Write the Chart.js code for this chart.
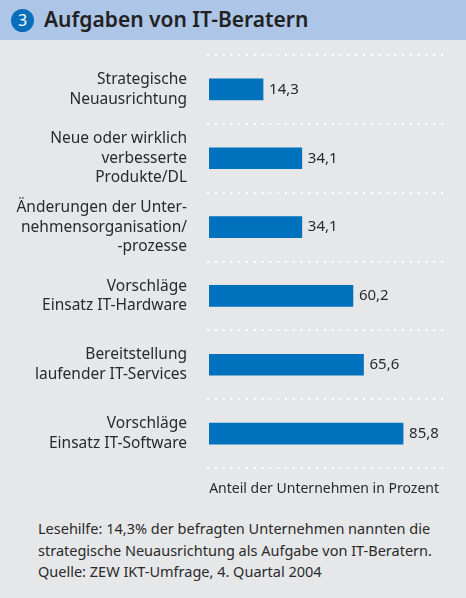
<!DOCTYPE html>
<html>
<head>
<meta charset="utf-8">
<script src="https://cdn.jsdelivr.net/npm/chart.js@4"></script>
<style>
  body { margin: 0; background: #e6e7e9; font-family: "Noto Sans", sans-serif; color: #2a2a2a; }
  #page { position: relative; width: 466px; height: 598px; overflow: hidden; background: #e6e7e9; }
  #head { position: absolute; left: 0; top: 0; width: 466px; height: 40px; background: #adc5e6; }
  #num { position: absolute; left: 11px; top: 9px; width: 23px; height: 23px; border-radius: 50%;
         background: #0a6fba; color: #fff; font-size: 16px; line-height: 23px; text-align: center; }
  #title { position: absolute; left: 44px; top: 5px; font-size: 21px; font-weight: 600; color: #222; }
  #wrap { position: absolute; left: 0; top: 40px; width: 466px; height: 440px; }
  #unit { position: absolute; right: 27px; top: 478px; font-size: 14px; }
  #note { position: absolute; left: 38px; top: 518px; font-size: 14.5px; line-height: 21.5px; }
</style>
</head>
<body>
<div id="page">
  <div id="head"><div id="num">3</div><div id="title">Aufgaben von IT-Beratern</div></div>
  <div id="wrap"><canvas id="chart"></canvas></div>
  <div id="unit">Anteil der Unternehmen in Prozent</div>
  <div id="note">Lesehilfe: 14,3% der befragten Unternehmen nannten die<br>strategische Neuausrichtung als Aufgabe von IT-Beratern.<br>Quelle: ZEW IKT-Umfrage, 4. Quartal 2004</div>
</div>
<script>
const kategorien = [
  ["Strategische", "Neuausrichtung"],
  ["Neue oder wirklich", "verbesserte", "Produkte/DL"],
  ["Änderungen der Unter-", "nehmensorganisation/", "-prozesse"],
  ["Vorschläge", "Einsatz IT-Hardware"],
  ["Bereitstellung", "laufender IT-Services"],
  ["Vorschläge", "Einsatz IT-Software"]
];
const anteile = [14.3, 34.1, 34.1, 60.2, 65.6, 85.8];
// die Balken beginnen in der Vorlage nicht bei 0
const achseMin = -13.3;
const achseMax = 106.7;

// gepunktete Trennlinien zwischen den Kategorien
const trennLinien = {
  id: 'trennLinien',
  beforeDatasetsDraw(chart) {
    const { ctx, chartArea } = chart;
    const y = chart.scales.y;
    ctx.save();
    ctx.strokeStyle = '#ffffff';
    ctx.lineWidth = 2;
    ctx.setLineDash([2, 5.8]);
    for (let i = 0; i <= kategorien.length; i++) {
      const py = Math.round(y.getPixelForValue(i - 0.5));
      ctx.beginPath();
      ctx.moveTo(chartArea.left - 2, py);
      ctx.lineTo(chartArea.right, py);
      ctx.stroke();
    }
    ctx.restore();
  }
};

const wertLabels = {
  id: 'wertLabels',
  afterDatasetsDraw(chart) {
    const ctx = chart.ctx;
    const meta = chart.getDatasetMeta(0);
    ctx.save();
    ctx.font = '15px "Noto Sans"';
    ctx.fillStyle = '#2a2a2a';
    ctx.textBaseline = 'middle';
    meta.data.forEach((bar, i) => {
      ctx.fillText(anteile[i].toFixed(1).replace('.', ','), bar.x + 6, bar.y);
    });
    ctx.restore();
  }
};

new Chart(document.getElementById('chart'), {
  type: 'bar',
  data: {
    labels: kategorien,
    datasets: [{
      data: anteile,
      base: achseMin,
      backgroundColor: '#0071bc',
      barThickness: 21
    }]
  },
  options: {
    indexAxis: 'y',
    responsive: true,
    maintainAspectRatio: false,
    animation: false,
    layout: { padding: { top: 15, right: 22, bottom: 12, left: 0 } },
    plugins: { legend: { display: false }, tooltip: { enabled: false } },
    scales: {
      x: { display: false, min: achseMin, max: achseMax },
      y: {
        afterFit(scale) {
          scale.width = 209;
          scale.paddingTop = 0;
          scale.paddingBottom = 0;
        },
        border: { display: false },
        grid: { display: false, drawTicks: false },
        ticks: {
          autoSkip: false,
          padding: 22,
          color: '#2a2a2a',
          font: { family: 'Noto Sans', size: 15.5, lineHeight: 1.25 }
        }
      }
    }
  },
  plugins: [trennLinien, wertLabels]
});
</script>
</body>
</html>
